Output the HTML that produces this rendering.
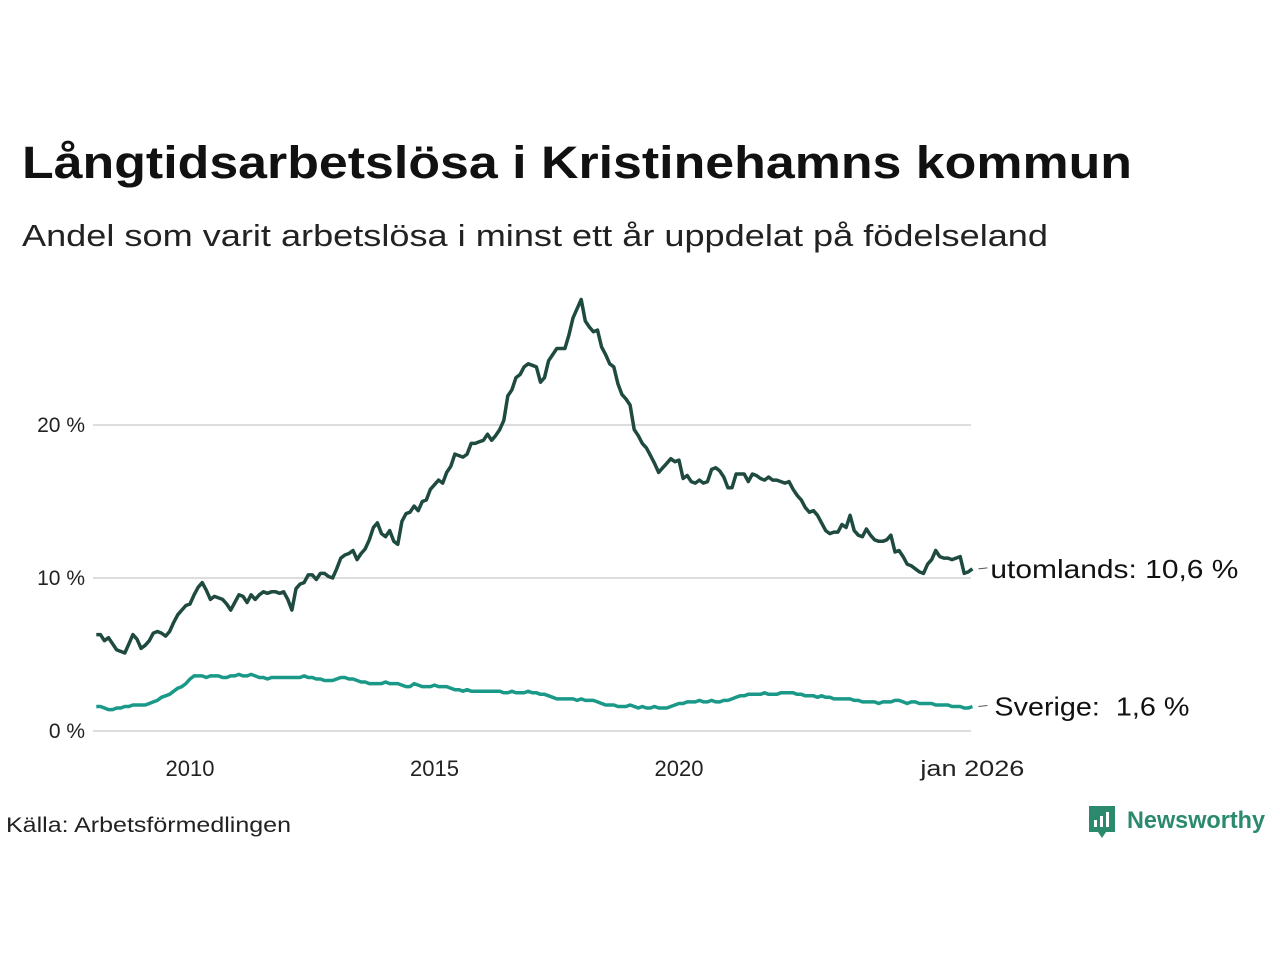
<!DOCTYPE html>
<html><head><meta charset="utf-8"><style>
body{margin:0;background:#fff;}
svg{display:block;font-family:"Liberation Sans",sans-serif;}
</style></head><body>
<svg width="1280" height="960" viewBox="0 0 1280 960">
<text x="22" y="178" font-size="45" font-weight="bold" fill="#111" textLength="1110" lengthAdjust="spacingAndGlyphs">Långtidsarbetslösa i Kristinehamns kommun</text>
<text x="22" y="246" font-size="31" fill="#222" textLength="1026" lengthAdjust="spacingAndGlyphs">Andel som varit arbetslösa i minst ett år uppdelat på födelseland</text>
<g id="grid"></g>
<g id="series"></g>
<text x="6" y="832" font-size="21" fill="#222" textLength="285" lengthAdjust="spacingAndGlyphs">Källa: Arbetsförmedlingen</text>
<g>
<path d="M1089 806 h26 v26 h-9 l-4 6 l-4 -6 h-9 z" fill="#2b8a6e"/>
<rect x="1094" y="820" width="3" height="7" fill="#fff"/><rect x="1100" y="816" width="3" height="11" fill="#fff"/><rect x="1106" y="812" width="3" height="15" fill="#fff"/>
<text x="1127" y="828" font-size="24" font-weight="bold" fill="#2b8a6e" textLength="138" lengthAdjust="spacingAndGlyphs">Newsworthy</text>
</g>
</svg>
<script>
const startYear=2008, startMonth=2;
const utomlands=[6.3,6.3,5.9,6.1,5.7,5.3,5.2,5.1,5.7,6.3,6.0,
5.4,5.6,5.9,6.4,6.5,6.4,6.2,6.5,7.1,7.6,7.9,8.2,
8.3,8.9,9.4,9.7,9.2,8.6,8.8,8.7,8.6,8.3,7.9,8.4,
8.9,8.8,8.4,8.9,8.6,8.9,9.1,9.0,9.1,9.1,9.0,9.1,
8.6,7.9,9.3,9.6,9.7,10.2,10.2,9.9,10.3,10.3,10.1,10.0,
10.6,11.3,11.5,11.6,11.8,11.2,11.6,11.9,12.5,13.3,13.6,12.9,
12.7,13.1,12.4,12.2,13.7,14.2,14.3,14.7,14.4,15.0,15.1,15.8,
16.1,16.4,16.2,16.9,17.3,18.1,18.0,17.9,18.1,18.8,18.8,18.9,
19.0,19.4,19.0,19.3,19.7,20.3,21.9,22.3,23.1,23.3,23.8,24.0,
23.9,23.8,22.8,23.1,24.2,24.6,25.0,25.0,25.0,25.9,27.0,27.6,
28.2,26.8,26.4,26.1,26.2,25.1,24.6,24.0,23.8,22.7,22.0,21.7,
21.3,19.7,19.3,18.8,18.5,18.0,17.5,16.9,17.2,17.5,17.8,17.6,
17.7,16.5,16.7,16.3,16.2,16.4,16.2,16.3,17.1,17.2,17.0,16.6,
15.9,15.9,16.8,16.8,16.8,16.3,16.8,16.7,16.5,16.4,16.6,16.4,
16.4,16.3,16.2,16.3,15.8,15.4,15.1,14.6,14.3,14.4,14.1,13.6,
13.1,12.9,13.0,13.0,13.5,13.3,14.1,13.1,12.8,12.7,13.2,12.8,
12.5,12.4,12.4,12.5,12.8,11.7,11.8,11.4,10.9,10.8,10.6,10.4,
10.3,10.9,11.2,11.8,11.4,11.3,11.3,11.2,11.3,11.4,10.3,10.4,
10.6];
const sverige=[1.6,1.6,1.5,1.4,1.4,1.5,1.5,1.6,1.6,1.7,1.7,
1.7,1.7,1.8,1.9,2.0,2.2,2.3,2.4,2.6,2.8,2.9,3.1,
3.4,3.6,3.6,3.6,3.5,3.6,3.6,3.6,3.5,3.5,3.6,3.6,
3.7,3.6,3.6,3.7,3.6,3.5,3.5,3.4,3.5,3.5,3.5,3.5,
3.5,3.5,3.5,3.5,3.6,3.5,3.5,3.4,3.4,3.3,3.3,3.3,
3.4,3.5,3.5,3.4,3.4,3.3,3.2,3.2,3.1,3.1,3.1,3.1,
3.2,3.1,3.1,3.1,3.0,2.9,2.9,3.1,3.0,2.9,2.9,2.9,
3.0,2.9,2.9,2.9,2.8,2.7,2.7,2.6,2.7,2.6,2.6,2.6,
2.6,2.6,2.6,2.6,2.6,2.5,2.5,2.6,2.5,2.5,2.5,2.6,
2.5,2.5,2.4,2.4,2.3,2.2,2.1,2.1,2.1,2.1,2.1,2.0,
2.1,2.0,2.0,2.0,1.9,1.8,1.7,1.7,1.7,1.6,1.6,1.6,
1.7,1.6,1.5,1.6,1.5,1.5,1.6,1.5,1.5,1.5,1.6,1.7,
1.8,1.8,1.9,1.9,1.9,2.0,1.9,1.9,2.0,1.9,1.9,2.0,
2.0,2.1,2.2,2.3,2.3,2.4,2.4,2.4,2.4,2.5,2.4,2.4,
2.4,2.5,2.5,2.5,2.5,2.4,2.4,2.3,2.3,2.3,2.2,2.3,
2.2,2.2,2.1,2.1,2.1,2.1,2.1,2.0,2.0,1.9,1.9,1.9,
1.9,1.8,1.9,1.9,1.9,2.0,2.0,1.9,1.8,1.9,1.9,1.8,
1.8,1.8,1.8,1.7,1.7,1.7,1.7,1.6,1.6,1.6,1.5,1.5,
1.6];
const yTicks=[0,10,20];
const yTickLabels=["0 %","10 %","20 %"];
const xTicks=[2010,2015,2020];
const xTickLabels=["2010","2015","2020"];
const NS="http://www.w3.org/2000/svg";
function xs(t){return 190+(t-2010)*48.9;}
function ys(v){return 731-v*15.3;}
function tOf(i){return startYear+(startMonth-1+i)/12;}
function mk(tag,attrs,parent){const e=document.createElementNS(NS,tag);for(const k in attrs)e.setAttribute(k,attrs[k]);parent.appendChild(e);return e;}
const grid=document.getElementById('grid'), ser=document.getElementById('series');
yTicks.forEach((v,i)=>{
 const l=mk('line',{x1:93,x2:971,y1:ys(v),y2:ys(v),stroke:'#dddddd','stroke-width':2},grid);
 
 
 const t=mk('text',{x:85,y:ys(v)+7,'font-size':21,'text-anchor':'end',fill:'#222'},grid);
 t.textContent=yTickLabels[i];
 
 
});
xTicks.forEach((v,i)=>{
 const t=mk('text',{x:xs(v),y:776,'font-size':22,'text-anchor':'middle',fill:'#222'},grid);
 t.textContent=xTickLabels[i];
 
 
});
const lastT=tOf(utomlands.length-1);
const tl=mk('text',{x:xs(lastT),y:776,'font-size':22,'text-anchor':'middle',fill:'#222',textLength:104,lengthAdjust:'spacingAndGlyphs'},grid);
tl.textContent="jan 2026";


function drawLine(arr,color,name,label,dx,len){
 const d=arr.map((v,i)=>(i?'L':'M')+xs(tOf(i)).toFixed(1)+' '+ys(v).toFixed(1)).join(' ');
 const p=mk('path',{d:d,fill:'none',stroke:color,'stroke-width':3.5,'stroke-linejoin':'round'},ser);
 
 
 const lx=xs(lastT), ly=ys(arr[arr.length-1]);
 const dash=mk('line',{x1:lx+6,x2:lx+15,y1:ly,y2:ly-1,stroke:'#555','stroke-width':1},ser);
 
 
 const t=mk('text',{x:lx+18+dx,y:ly+9,'font-size':26,fill:'#111',textLength:len,lengthAdjust:'spacingAndGlyphs'},ser);
 t.textContent=label;
 
 
 t.setAttribute('xml:space','preserve');
 t.style.whiteSpace='pre';
}
drawLine(sverige,'#1a9988','sverige','Sverige:  1,6 %',4,195);
drawLine(utomlands,'#1e4a40','utomlands','utomlands: 10,6 %',0,248);
</script>
</body></html>
